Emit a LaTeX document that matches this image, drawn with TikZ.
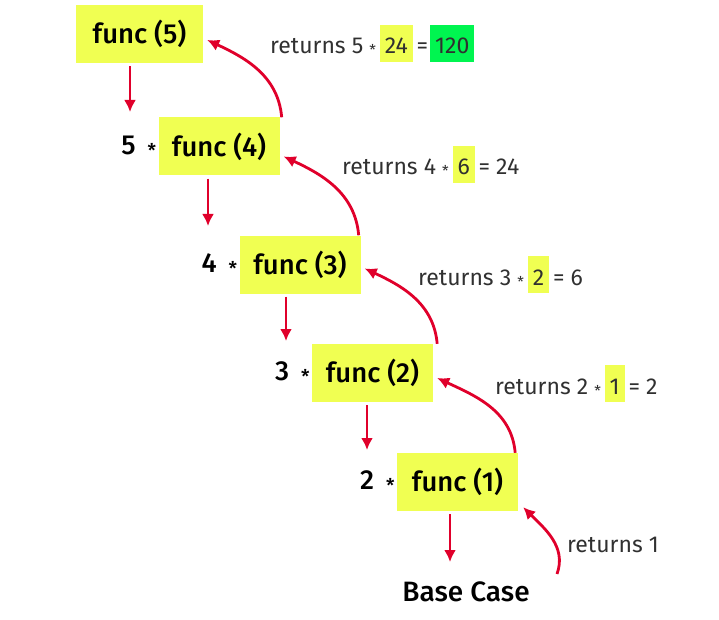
\documentclass[tikz,border=0pt]{standalone}
\usepackage{fontspec}
\setmainfont{Fira Sans}
\newfontfamily\medfont{Fira Sans Medium}
\usetikzlibrary{arrows.meta}
\definecolor{hlyellow}{HTML}{F0FF52}
\definecolor{hlgreen}{HTML}{00F550}
\definecolor{callred}{HTML}{E0002B}
\definecolor{retgray}{HTML}{303030}
\newcommand{\hlnum}[2]{{\setlength{\fboxsep}{0pt}\colorbox{#1}{\rule[-8pt]{0pt}{37pt}\kern5pt#2\kern5pt}}}
\newcommand{\mulsign}{\raisebox{-2pt}{\fontsize{15}{15}\selectfont *}}
\newcommand{\callmul}{\raisebox{-3pt}{\fontsize{19}{19}\selectfont *}}
\begin{document}
\begin{tikzpicture}[x=1pt, y=-1pt, >={Latex[length=12pt,width=12pt]},
	callbox/.style={fill=hlyellow, minimum width=121pt, minimum height=58pt, inner sep=0pt, font=\medfont\fontsize{27.5}{30}\selectfont},
	mulnum/.style={anchor=east, inner sep=2pt, font=\medfont\fontsize{27.5}{30}\selectfont},
	callarrow/.style={->, draw=callred, line width=2.8pt, shorten <=3pt},
	retarrow/.style={->, draw=callred, line width=2.8pt},
	retlabel/.style={anchor=base west, inner sep=0pt, text=retgray, font=\fontsize{23}{27}\selectfont}]
				\useasboundingbox (0,0) rectangle (719,620);
				% 1. 调用框
				\node[callbox, minimum width=127pt] (f5) at (139.5,34) {func (5)};
				\node[callbox] (f4) at (219,146.5) {func (4)};
				\node[callbox] (f3) at (300,264.5) {func (3)};
				\node[callbox] (f2) at (372.5,373) {func (2)};
				\node[callbox] (f1) at (457.5,482) {func (1)};
				\node[font=\medfont\fontsize{28}{30}\selectfont] (base) at (466,592) {Base Case};
				
				% 2. 乘数
				\node[mulnum] (m4) at (f4.west) {5\kern12pt\callmul};
				\node[mulnum] (m3) at (f3.west) {4\kern12pt\callmul};
				\node[mulnum] (m2) at (f2.west) {3\kern12pt\callmul};
				\node[mulnum] (m1) at (f1.west) {2\kern12pt\callmul};
				
				% 3. 向下调用
				\coordinate (d5) at (130,112);
				\coordinate (d4) at (208,226);
				\coordinate (d3) at (286,341);
				\coordinate (d2) at (367,450);
				\coordinate (d1) at (450,562);
				\draw[callarrow] (f5.south -| d5) -- (d5);
				\draw[callarrow] (f4.south -| d4) -- (d4);
				\draw[callarrow] (f3.south -| d3) -- (d3);
				\draw[callarrow] (f2.south -| d2) -- (d2);
				\draw[callarrow] (f1.south -| d1) -- (d1);
				
				% 4. 返回曲线
				\coordinate (rb) at (557,574);
				\draw[retarrow] ([xshift=2pt]f4.north east) to[out=95, in=-25] ([shift={(4,6)}]f5.east);
				\draw[retarrow] ([xshift=-2pt]f3.north east) to[out=95, in=-25] ([shift={(4,10)}]f4.east);
				\draw[retarrow] ([xshift=4pt]f2.north east) to[out=95, in=-25] ([shift={(4,4)}]f3.east);
				\draw[retarrow] ([xshift=-3pt]f1.north east) to[out=95, in=-25] ([shift={(4,5)}]f2.east);
				\draw[retarrow] (rb) to[out=70, in=-45] ([shift={(5,-4)}]f1.south east);
				
				% 5. 返回值
				\node[retlabel] (v5) at (270,54) {returns 5 \mulsign\,\hlnum{hlyellow}{24}\,=\kern2pt\hlnum{hlgreen}{120}};
				\node[retlabel] (v4) at (342,175) {returns 4 \mulsign\,\hlnum{hlyellow}{6}\,= 24};
				\node[retlabel] (v3) at (418,285) {returns 3 \mulsign\,\hlnum{hlyellow}{2}\,= 6};
				\node[retlabel] (v2) at (495,394) {returns 2 \mulsign\,\hlnum{hlyellow}{1}\,= 2};
				\node[retlabel] (v1) at (567,552) {returns 1};
			\end{tikzpicture}
\end{document}
